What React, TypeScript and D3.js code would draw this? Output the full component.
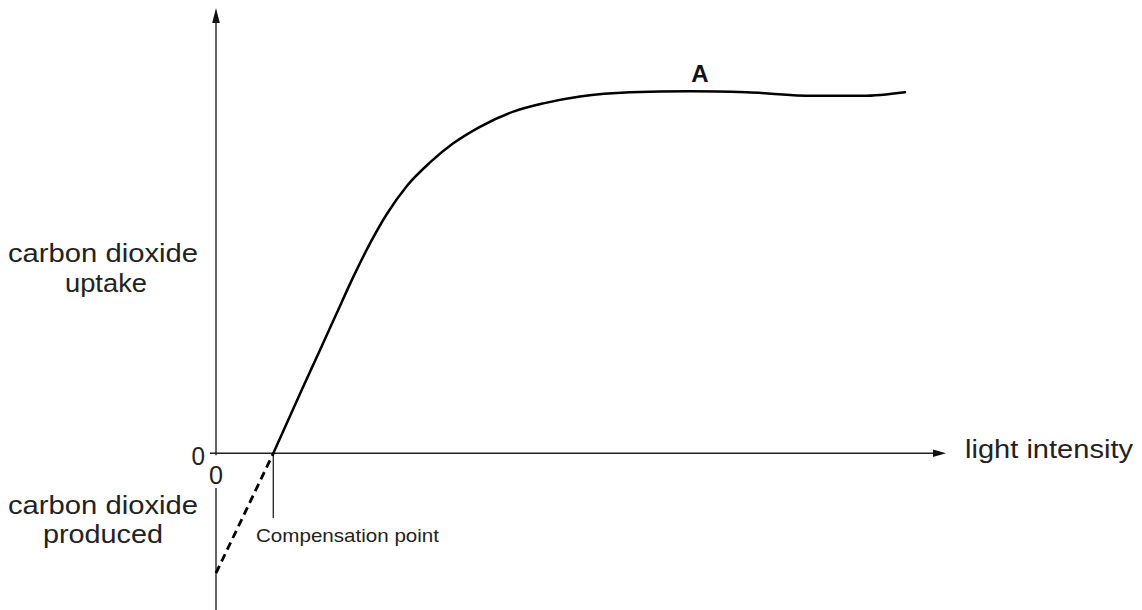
import React from 'react';
import * as d3 from 'd3';

// Light-response curve (arbitrary units: light intensity 0-100, CO2 uptake 0-100 at plateau)
const curveLight = [7.85, 11.74, 14.25, 16.53, 18.81, 21.1, 23.38, 26.12, 29.32, 32.5, 36.16, 40.73, 44.84, 49.86, 56.71, 64.93, 72.7, 81.78, 88.63, 94.38];
const curveUptake = [0, 17.6, 28.7, 38.9, 49.0, 58.3, 66.4, 74.2, 80.8, 86.1, 90.7, 94.9, 97.2, 99.1, 100.3, 100.6, 100.3, 99.3, 99.3, 100.3];
// Extrapolated (dashed) part below zero: CO2 produced
const dashLight = [0, 7.85];
const dashUptake = [-33.3, 0];
const compensationPoint = 7.85;
const plateauLabel = 'A';
const plateauLabelX = 66.3;

const W = 1142;
const H = 610;
const FONT = '"Liberation Sans", Arial, Helvetica, sans-serif';
const TEXT = '#222';

export default function App() {
  const x = d3.scaleLinear().domain([0, 100]).range([216, 946]);
  const y = d3.scaleLinear().domain([0, 100]).range([453.3, 93.3]);

  const line = d3
    .line<number>()
    .x((_, i) => x(curveLight[i]))
    .y((d) => y(d))
    .curve(d3.curveMonotoneX);

  const dashLine = d3
    .line<number>()
    .x((_, i) => x(dashLight[i]))
    .y((d) => y(d));

  const x0 = x(0);
  const y0 = y(0);
  const yTop = 8;
  const xEnd = 946;

  return (
    <svg width={W} height={H} style={{ position: 'absolute', left: 0, top: 0, background: '#fff' }}>
      <rect x={0} y={0} width={W} height={H} fill="#fff" />
      {/* y axis */}
      <line x1={x0} x2={x0} y1={yTop + 14} y2={y0 + 2} stroke={TEXT} strokeWidth={1.4} />
      <line x1={x0} x2={x0} y1={488} y2={H} stroke={TEXT} strokeWidth={1.4} />
      <path d={`M${x0},${yTop} L${x0 - 3.8},${yTop + 15} L${x0 + 3.8},${yTop + 15} Z`} fill="#111" />
      {/* x axis */}
      <line x1={x0 - 6} x2={xEnd - 12} y1={y0} y2={y0} stroke={TEXT} strokeWidth={1.4} />
      <path d={`M${xEnd},${y0} L${xEnd - 13},${y0 - 3.8} L${xEnd - 13},${y0 + 3.8} Z`} fill="#111" />

      {/* compensation point marker */}
      <line x1={x(compensationPoint)} x2={x(compensationPoint)} y1={y0} y2={518} stroke={TEXT} strokeWidth={1.3} />

      {/* curves */}
      <path d={line(curveUptake) || ''} fill="none" stroke="#000" strokeWidth={2.5} strokeLinecap="round" />
      <path d={dashLine(dashUptake) || ''} fill="none" stroke="#000" strokeWidth={2.8} strokeDasharray="8,5" />

      {/* texts */}
      <g fontFamily={FONT} fill={TEXT}>
        <text x={8} y={262} fontSize={26} textLength={190} lengthAdjust="spacingAndGlyphs">carbon dioxide</text>
        <text x={65} y={292} fontSize={26} textLength={82} lengthAdjust="spacingAndGlyphs">uptake</text>
        <text x={8} y={514} fontSize={26} textLength={190} lengthAdjust="spacingAndGlyphs">carbon dioxide</text>
        <text x={43} y={543} fontSize={26} textLength={120} lengthAdjust="spacingAndGlyphs">produced</text>
        <text x={965} y={458} fontSize={26} textLength={168} lengthAdjust="spacingAndGlyphs">light intensity</text>
        <text x={191.5} y={465} fontSize={26} textLength={13.5} lengthAdjust="spacingAndGlyphs">0</text>
        <text x={209} y={484} fontSize={26} textLength={14} lengthAdjust="spacingAndGlyphs">0</text>
        <text x={256} y={541.5} fontSize={19} textLength={183} lengthAdjust="spacingAndGlyphs">Compensation point</text>
        <text x={x(plateauLabelX)} y={82} fontSize={24} fontWeight="bold" textAnchor="middle" fill="#111">{plateauLabel}</text>
      </g>
    </svg>
  );
}
